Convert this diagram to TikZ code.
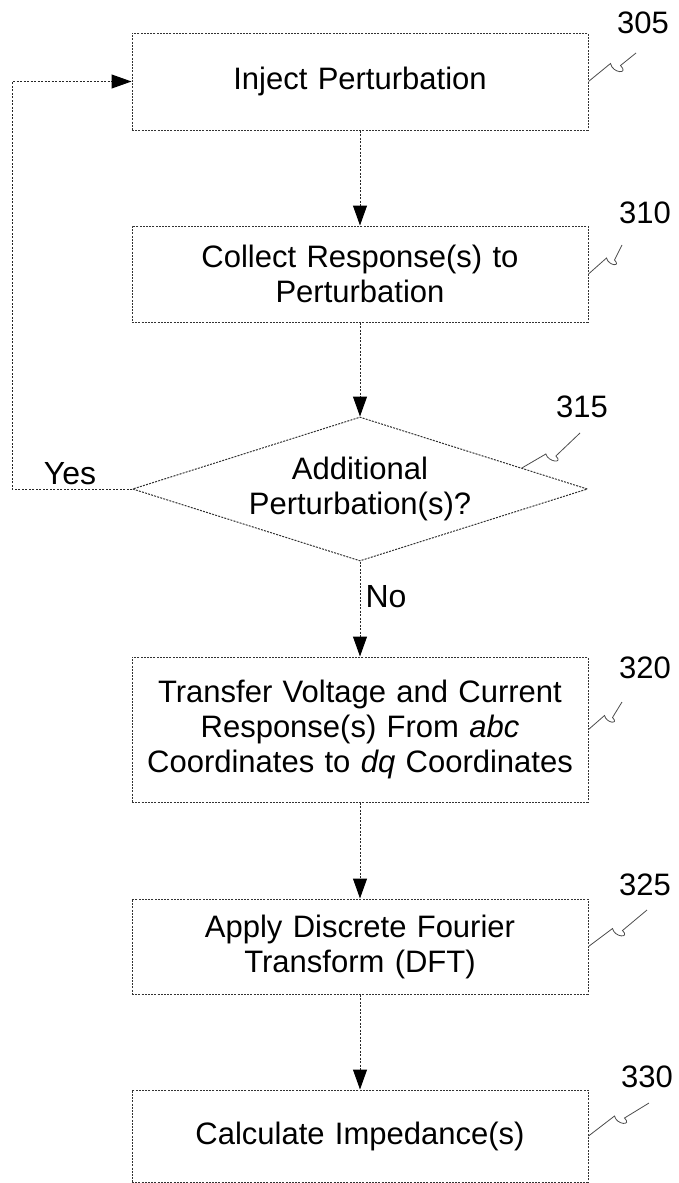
\documentclass[tikz,border=0pt]{standalone}
\usepackage{fontspec}
\setmainfont{Liberation Sans}
\usetikzlibrary{shapes.geometric, arrows.meta, positioning, calc}

\begin{document}
\begin{tikzpicture}[x=1pt, y=-1pt,
    stepbox/.style={rectangle, draw=black!80, line width=1pt, dash pattern=on 2pt off 1.2pt, minimum width=456pt, text width=440pt, align=center, inner sep=0pt, font=\fontsize{31}{35}\selectfont},
    decision/.style={diamond, draw=black!80, line width=1pt, dash pattern=on 2pt off 1.2pt, aspect=3.16, inner sep=0pt, minimum width=455pt, minimum height=144pt, align=center, font=\fontsize{31}{35}\selectfont},
    flow/.style={-{Triangle[length=20pt, width=14pt, black]}, black!85, line width=1pt, dash pattern=on 2pt off 1.5pt},
    refnum/.style={font=\fontsize{31}{31}\selectfont},
    leader/.style={black!70, line width=0.8pt}]
    \useasboundingbox (0,0) rectangle (679,1183);

    % process steps
    \node[stepbox, minimum height=97pt] (inject) at (360,81.5) {Inject Perturbation};
    \node[stepbox, minimum height=96pt] (collect) at (360,274) {Collect Response(s) to\\Perturbation};
    \node[decision] (dia) at (360,489) {Additional\\Perturbation(s)?};
    \node[stepbox, minimum height=145pt] (transfer) at (360,729.5) {Transfer Voltage and Current\\Response(s) From \textit{abc}\\Coordinates to \textit{dq} Coordinates};
    \node[stepbox, minimum height=95pt] (dft) at (360,946.5) {Apply Discrete Fourier\\Transform (DFT)};
    \node[stepbox, minimum height=92pt] (calc) at (360,1136) {Calculate Impedance(s)};

    % connectors
    \draw[flow] (inject) -- (collect);
    \draw[flow] (collect) -- (dia);
    \draw[flow] (dia) -- (transfer);
    \draw[flow] (transfer) -- (dft);
    \draw[flow] (dft) -- (calc);
    \coordinate (loopcorner) at (12,489);
    \draw[flow] (dia.west) -- (loopcorner) |- (inject.west);
    \node[font=\fontsize{32}{32}\selectfont] (yes) at (70,474) {Yes};
    \node[font=\fontsize{32}{32}\selectfont] (no) at (386,597) {No};

    % reference numerals
    \node[refnum] (n305) at (643,23) {305};
    \node[refnum] (n310) at (645,213) {310};
    \node[refnum] (n315) at (582,407) {315};
    \node[refnum] (n320) at (645,668) {320};
    \node[refnum] (n325) at (645,885) {325};
    \node[refnum] (n330) at (647,1077) {330};
    \coordinate (dia315) at ($(dia.north)!0.71!(dia.east)$);
    \draw[leader] (inject.east) -- ++(22,-18) .. controls +(2,10) and +(9,9) .. ++(10,2) -- (636,53);
    \draw[leader] (collect.east) -- ++(18,-16) .. controls +(2,8) and +(7,7) .. ++(8,2) -- (622,245);
    \draw[leader] (dia315) -- ++(24,-14) .. controls +(2,8) and +(8,8) .. ++(10,2) -- (580,433);
    \draw[leader] (transfer.east) -- ++(16,-14) .. controls +(2,8) and +(7,7) .. ++(8,2) -- (622,702);
    \draw[leader] (dft.east) -- ++(24,-18) .. controls +(2,9) and +(8,8) .. ++(10,2) -- (647,910);
    \draw[leader] (calc.east) -- ++(26,-20) .. controls +(2,9) and +(8,8) .. ++(10,2) -- (649,1103);
\end{tikzpicture}
\end{document}
